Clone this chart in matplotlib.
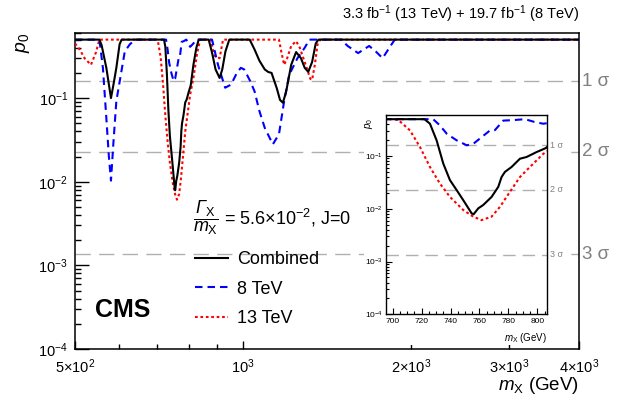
import matplotlib
matplotlib.use('Agg')
import matplotlib.pyplot as plt
import numpy as np

plt.rcParams['font.family'] = ['Liberation Sans', 'DejaVu Sans']
plt.rcParams['mathtext.fontset'] = 'custom'
plt.rcParams['mathtext.rm'] = 'Liberation Sans'
plt.rcParams['mathtext.it'] = 'Liberation Sans:italic'
plt.rcParams['mathtext.bf'] = 'Liberation Sans:bold'
# used only for the italic capital Gamma
plt.rcParams['mathtext.sf'] = 'Liberation Sans:italic'

# local p-values (mass in GeV, p0)
comb_m = [500, 553, 558, 569, 580, 586, 593, 601, 606, 722, 725.8, 730.4, 735, 739.6, 744.3,
          748.8, 754.6, 756, 759.2, 762.6, 768.4, 773, 775.3, 777.6, 782.2, 788, 792.6, 799.5,
          806, 815, 825, 833, 868, 880, 893, 908, 918, 930, 945, 1028, 1049, 1070, 1094, 1110,
          1125, 1150, 1165, 1179, 1195, 1220, 1245, 1270, 1290, 1309, 1330, 1350, 1365, 4000]
comb_p = [0.5, 0.5, 0.43, 0.23, 0.10, 0.145, 0.23, 0.44, 0.5, 0.5, 0.41, 0.198, 0.072, 0.035,
          0.0225, 0.0146, 0.0082, 0.0079, 0.0102, 0.0118, 0.0168, 0.026, 0.040, 0.050, 0.062,
          0.089, 0.096, 0.119, 0.142, 0.25, 0.40, 0.5, 0.5, 0.35, 0.22, 0.174, 0.22, 0.36, 0.5,
          0.5, 0.38, 0.28, 0.22, 0.205, 0.2, 0.13, 0.095, 0.088, 0.12, 0.25, 0.355, 0.3, 0.23,
          0.206, 0.27, 0.45, 0.5, 0.5]

tev8_m = [500, 553, 561, 569, 575, 580, 586, 593, 614, 627, 641, 728, 732.7, 737.4, 744.3,
          751.2, 755.7, 761.5, 767.3, 770.7, 776.5, 783.4, 791.5, 798.4, 804.1, 815, 824, 880,
          902, 929, 952, 975, 991, 1005, 1030, 1049, 1070, 1094, 1131, 1160, 1185, 1210, 1252,
          1290, 1315, 1499, 1540, 1608, 1683, 1730, 1779, 1820, 1870, 4000]
tev8_p = [0.5, 0.5, 0.23, 0.058, 0.02, 0.0103, 0.03, 0.092, 0.36, 0.44, 0.5, 0.5, 0.38, 0.265,
          0.198, 0.16, 0.17, 0.228, 0.306, 0.31, 0.47, 0.48, 0.5, 0.44, 0.41, 0.45, 0.5, 0.5,
          0.25, 0.133, 0.145, 0.2, 0.23, 0.22, 0.16, 0.12, 0.07, 0.044, 0.028, 0.037, 0.092,
          0.19, 0.3, 0.4, 0.5, 0.5, 0.42, 0.345, 0.42, 0.36, 0.30, 0.38, 0.5, 0.5]

tev13_m = [500, 510, 520, 534, 545, 553, 700, 704, 712, 718.9, 725.8, 732.7, 739.6, 748.8,
           755.7, 761.5, 768.4, 774.2, 781.1, 788, 794.9, 804.1, 815, 828, 838, 875, 889, 908,
           921, 1160, 1172, 1185, 1200, 1220, 1245, 1264, 1295, 1320, 1330, 1345, 1360, 1375, 4000]
tev13_p = [0.45, 0.38, 0.3, 0.25, 0.35, 0.5, 0.5, 0.48, 0.306, 0.148, 0.062, 0.030, 0.0168,
           0.0095, 0.0071, 0.0061, 0.0071, 0.0109, 0.021, 0.040, 0.062, 0.11, 0.174, 0.35, 0.5,
           0.5, 0.32, 0.30, 0.5, 0.5, 0.35, 0.25, 0.30, 0.42, 0.48, 0.4, 0.25, 0.17, 0.165, 0.25,
           0.44, 0.5, 0.5]

sigma_p = [0.1587, 0.02275, 0.00135]
sigma_lbl = ['1 σ', '2 σ', '3 σ']

xticks = [500, 1000, 2000, 3000, 4000]
xticklabels = [r'5$\times$10$^{2}$', r'10$^{3}$', r'2$\times$10$^{3}$',
               r'3$\times$10$^{3}$', r'4$\times$10$^{3}$']
yticks = [1e-4, 1e-3, 1e-2, 1e-1]
yticklabels = [r'10$^{-4}$', r'10$^{-3}$', r'10$^{-2}$', r'10$^{-1}$']
inset_xticks = [700, 720, 740, 760, 780, 800]

W, H = 623, 398
fig = plt.figure(figsize=(W / 100, H / 100), dpi=100)

def box(x0, y0, x1, y1):
    # pixel box -> figure fraction
    return [x0 / W, 1 - y1 / H, (x1 - x0) / W, (y1 - y0) / H]

def draw_curves(a, lw):
    a.plot(comb_m, comb_p, color='black', lw=lw, solid_joinstyle='round', zorder=5)
    a.plot(tev8_m, tev8_p, color='blue', lw=lw, dashes=(3.6, 2.4), zorder=4)
    a.plot(tev13_m, tev13_p, color='red', lw=lw, dashes=(1.3, 1.3), zorder=3)

ax = fig.add_axes(box(75, 33, 579, 349))
ax.set_xscale('log')
ax.set_yscale('log')
ax.set_xlim(500, 4000)
ax.set_ylim(1e-4, 0.6)
draw_curves(ax, 1.5)

for p, lab in zip(sigma_p, sigma_lbl):
    ax.axhline(p, color='#b0b0b0', lw=1.0, dashes=(11, 6), zorder=1)
    ax.text(1.005, p, lab, transform=ax.get_yaxis_transform(), color='#808080',
            fontsize=13.5, va='center', ha='left')

ax.set_xticks(xticks)
ax.set_xticklabels(xticklabels)
ax.set_xticks([600, 700, 800, 900], minor=True)
ax.xaxis.set_minor_formatter(matplotlib.ticker.NullFormatter())
ax.set_yticks(yticks)
ax.set_yticklabels(yticklabels)
ax.yaxis.set_minor_locator(matplotlib.ticker.LogLocator(base=10, subs=np.arange(2, 10)))
ax.yaxis.set_minor_formatter(matplotlib.ticker.NullFormatter())
ax.tick_params(which='both', direction='in', labelsize=10.5, width=1.0)
ax.tick_params(axis='y', which='major', length=10, pad=5)
ax.tick_params(axis='y', which='minor', length=4.5)
ax.tick_params(axis='x', which='major', length=6, pad=6)
ax.tick_params(axis='x', which='minor', length=3.5)
for s in ax.spines.values():
    s.set_linewidth(1.1)

ax.text(-0.103, 1.0, r'$p_{0}$', transform=ax.transAxes, rotation=90,
        ha='center', va='top', fontsize=14)
ax.text(1.0, -0.114, r'$m_{\mathrm{X}}$ (GeV)', transform=ax.transAxes,
        ha='right', va='center', fontsize=13.5)
ax.text(1.0, 1.025, r'3.3 fb$^{-1}$ (13 TeV) + 19.7 fb$^{-1}$ (8 TeV)',
        transform=ax.transAxes, ha='right', va='bottom', fontsize=10.5)
ax.text(0.04, 0.123, 'CMS', transform=ax.transAxes, fontsize=18,
        fontweight='bold', ha='left', va='center')
ax.text(0.235, 0.415, r'$\dfrac{\mathsf{\Gamma}_{\mathrm{X}}}{m_{\mathrm{X}}}$ = 5.6$\times$10$^{-2}$, J=0',
        transform=ax.transAxes, fontsize=13, ha='left', va='center')

leg = ax.legend(['Combined', '8 TeV', '13 TeV'], loc='upper left',
                bbox_to_anchor=(0.238, 0.31), frameon=False, fontsize=13,
                handlelength=1.85, handletextpad=0.5, labelspacing=0.7,
                borderpad=0, borderaxespad=0)

# white pad behind the inset
pad = fig.add_axes(box(364, 108, 568, 345))
pad.set_xticks([])
pad.set_yticks([])
for s in pad.spines.values():
    s.set_visible(False)

ins = fig.add_axes(box(386, 115, 546.7, 314.3))
ins.set_yscale('log')
ins.set_xlim(695.4, 806.5)
ins.set_ylim(1e-4, 0.6)
draw_curves(ins, 1.5)
for p, lab in zip(sigma_p, sigma_lbl):
    ins.axhline(p, color='#b0b0b0', lw=1.0, dashes=(9, 5), zorder=1)
    ins.text(1.02, p, lab, transform=ins.get_yaxis_transform(),
             color='#808080', fontsize=6.5, va='center', ha='left')
ins.set_xticks(inset_xticks)
ins.set_xticks(np.arange(700, 806, 5), minor=True)
ins.set_yticks(yticks)
ins.set_yticklabels(yticklabels)
ins.yaxis.set_minor_locator(matplotlib.ticker.LogLocator(base=10, subs=np.arange(2, 10)))
ins.yaxis.set_minor_formatter(matplotlib.ticker.NullFormatter())
ins.tick_params(which='both', direction='in', labelsize=6, width=0.8)
ins.tick_params(which='major', length=4, pad=2.5)
ins.tick_params(which='minor', length=2)
for s in ins.spines.values():
    s.set_linewidth(1.0)
ins.text(-0.103, 0.985, r'$p_{0}$', transform=ins.transAxes, rotation=90,
         ha='center', va='top', fontsize=7)
ins.text(1.0, -0.119, r'$m_{\mathrm{X}}$ (GeV)', transform=ins.transAxes,
         ha='right', va='center', fontsize=7)

fig.savefig('out.png', dpi=100)
